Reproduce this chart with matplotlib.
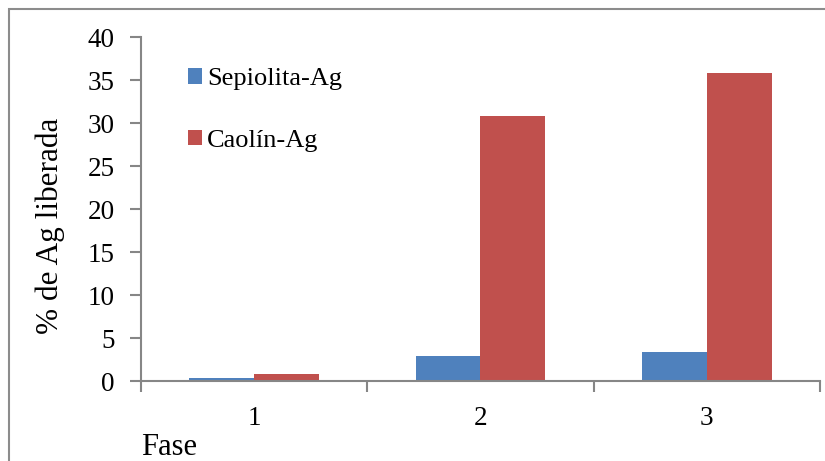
import numpy as np
import matplotlib.pyplot as plt
from matplotlib.patches import Rectangle

# datos
fases = ['1', '2', '3']
sepiolita = [0.35, 2.95, 3.35]
caolin = [0.85, 30.8, 35.8]
y_ticks = [0, 5, 10, 15, 20, 25, 30, 35, 40]

plt.rcParams['font.family'] = ['Liberation Serif', 'DejaVu Serif']

fig = plt.figure(figsize=(8.25, 4.61), dpi=100)
ax = fig.add_axes([0.1709, 0.1735, 0.8230, 0.7462])

x = np.arange(1, len(fases) + 1)
w = 0.287
ax.bar(x - w / 2, sepiolita, width=w, color='#4F81BD', label='Sepiolita-Ag')
ax.bar(x + w / 2, caolin, width=w, color='#C0504D', label='Caolín-Ag')

ax.set_xlim(0.5, 3.5)
ax.set_ylim(0, 40)
ax.set_yticks(y_ticks)
ax.set_yticklabels([str(v) for v in y_ticks], fontsize=19.5)

# ticks en los limites de categoria, etiquetas en el centro
ax.set_xticks([0.5, 1.5, 2.5, 3.5])
ax.set_xticklabels([])
ax.set_xticks(x, minor=True)
ax.set_xticklabels(fases, minor=True, fontsize=19.5)
ax.tick_params(axis='x', which='major', direction='out', length=8, width=1.5, color='#868686')
ax.tick_params(axis='x', which='minor', length=0, pad=18)
ax.tick_params(axis='y', direction='out', length=8, width=1.5, color='#868686', pad=11)

for s in ['top', 'right']:
    ax.spines[s].set_visible(False)
for s in ['left', 'bottom']:
    ax.spines[s].set_color('#868686')
    ax.spines[s].set_linewidth(1.5)

ax.legend(loc='center left', bbox_to_anchor=(188 / 825, 1 - 110 / 461),
          bbox_transform=fig.transFigure, frameon=False, fontsize=19,
          handlelength=0.53, handleheight=0.53, handletextpad=0.2,
          labelspacing=1.5, borderpad=0, borderaxespad=0)

fig.text(50 / 825, 1 - 226 / 461, '% de Ag liberada', rotation=90,
         ha='center', va='center', fontsize=22.5)
fig.text(141 / 825, 1 - 447 / 461, 'Fase', ha='left', va='center', fontsize=22)

# marco exterior del grafico
fig.patches.append(Rectangle((9 / 825, -0.1), 1.2, 1 - 9 / 461 + 0.1,
                             transform=fig.transFigure, fill=False,
                             edgecolor='#8c8c8c', linewidth=1.5))

fig.savefig('out.png', dpi=100)
